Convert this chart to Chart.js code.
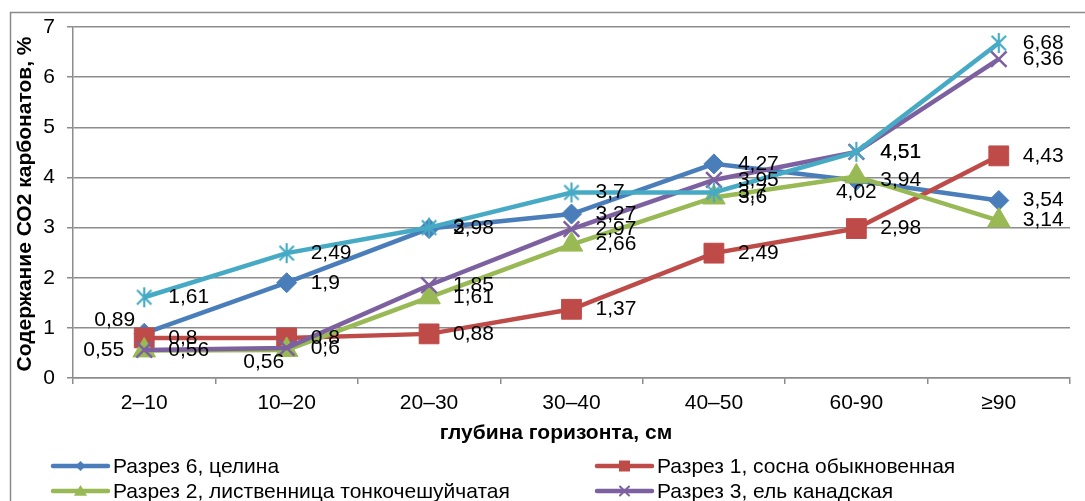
<!DOCTYPE html>
<html><head><meta charset="utf-8">
<script src="https://cdn.jsdelivr.net/npm/chart.js@4/dist/chart.umd.min.js"></script>
<style>html,body{margin:0;padding:0;background:#fff;overflow:hidden}canvas{display:block}</style>
</head><body>
<canvas id="c" width="1085" height="501"></canvas>
<script>
// ---- data ----
const categories = ['2–10', '10–20', '20–30', '30–40', '40–50', '60-90', '≥90'];
const seriesNames = ['Разрез 6, целина', 'Разрез 1, сосна обыкновенная', 'Разрез 2, лиственница тонкочешуйчатая', 'Разрез 3, ель канадская', 'Разрез 4'];
const razrez6 = [0.89, 1.9, 2.98, 3.27, 4.27, 3.94, 3.54];
const razrez1 = [0.8, 0.8, 0.88, 1.37, 2.49, 2.98, 4.43];
const razrez2 = [0.55, 0.56, 1.61, 2.66, 3.6, 4.02, 3.14];
const razrez3 = [0.56, 0.6, 1.85, 2.97, 3.95, 4.51, 6.36];
const razrez4 = [1.61, 2.49, 3, 3.7, 3.7, 4.51, 6.68];
const yTicks = [0, 1, 2, 3, 4, 5, 6, 7];
const yTitle = 'Содержание СО2 карбонатов, %';
const xTitle = 'глубина горизонта, см';

// ---- styles ----
const FONT = '"Liberation Sans", Arial, sans-serif';
const GRID = '#8c8c8c';
const colors = ['#4A7EBB', '#BE4B48', '#98B954', '#7D60A0', '#46AAC5'];
const labelPlacement = [
  ['al', 'r', 'r', 'r', 'r', 'r', 'r'],
  ['r', 'r', 'r', 'r', 'r', 'r', 'r'],
  ['l', 'bl', 'r', 'r', 'r', 'b', 'r'],
  ['r', 'r', 'r', 'r', 'r', 'r', 'r'],
  ['r', 'r', 'r', 'r', 'r', 'r', 'r']
];

function asteriskCanvas(color, s, lw) {
  const c = document.createElement('canvas');
  c.width = s; c.height = s;
  const g = c.getContext('2d');
  const m = s / 2, a = s / 2 - 1, d = a * 0.72;
  g.strokeStyle = color; g.lineWidth = lw; g.lineCap = 'butt';
  g.beginPath();
  g.moveTo(m, m - a); g.lineTo(m, m + a);
  g.moveTo(m - d, m - d); g.lineTo(m + d, m + d);
  g.moveTo(m + d, m - d); g.lineTo(m - d, m + d);
  g.stroke();
  return c;
}
const starBig = asteriskCanvas(colors[4], 22, 2.2);

const series = [razrez6, razrez1, razrez2, razrez3, razrez4];
const pStyles = ['rectRot', 'rect', 'triangle', 'crossRot', starBig];
const pRadius = [10, 14, 13, 11, 11];
const datasets = series.map((d, i) => ({
  label: seriesNames[i],
  data: d,
  borderColor: colors[i],
  backgroundColor: colors[i],
  borderWidth: 4.5,
  pointStyle: pStyles[i],
  pointRadius: pRadius[i],
  pointBorderWidth: i === 3 ? 2.5 : 1,
  pointBackgroundColor: colors[i],
  pointBorderColor: colors[i],
  tension: 0,
  fill: false,
  order: 5 - i
}));

function fmt(v) { return String(v).replace('.', ','); }

const frame = {
  id: 'frame',
  beforeDraw(chart) {
    const c = chart.ctx;
    c.save();
    c.fillStyle = '#fff';
    c.fillRect(0, 0, chart.width, chart.height);
    c.strokeStyle = '#8a8a8a';
    c.lineWidth = 1.5;
    c.strokeRect(10.5, 12.5, 1200, 600);
    c.restore();
  }
};

const dataLabels = {
  id: 'dataLabels',
  afterDatasetsDraw(chart) {
    const c = chart.ctx;
    c.save();
    c.font = '21px ' + FONT;
    c.fillStyle = '#000';
    c.textBaseline = 'middle';
    chart.data.datasets.forEach((ds, i) => {
      const meta = chart.getDatasetMeta(i);
      meta.data.forEach((pt, j) => {
        const t = fmt(ds.data[j]);
        const p = labelPlacement[i][j];
        let x = pt.x, y = pt.y;
        if (p === 'r') { c.textAlign = 'left'; x += 24; }
        else if (p === 'l') { c.textAlign = 'right'; x -= 20; }
        else if (p === 'bl') { c.textAlign = 'center'; x -= 23; y += 12; }
        else if (p === 'b') { c.textAlign = 'center'; y += 16; }
        else if (p === 'al') { c.textAlign = 'right'; x -= 9; y -= 13; }
        c.fillText(t, x, y);
      });
    });
    c.restore();
  }
};

function drawMarker(c, style, x, y, r, color) {
  c.save();
  c.fillStyle = color; c.strokeStyle = color; c.lineWidth = 1.5;
  c.beginPath();
  if (style === 'rectRot') {
    c.moveTo(x - r, y); c.lineTo(x, y - r); c.lineTo(x + r, y); c.lineTo(x, y + r); c.closePath(); c.fill();
  } else if (style === 'rect') {
    c.rect(x - r, y - r, 2 * r, 2 * r); c.fill();
  } else if (style === 'triangle') {
    c.moveTo(x, y - r); c.lineTo(x + r * 1.1, y + r * 0.8); c.lineTo(x - r * 1.1, y + r * 0.8); c.closePath(); c.fill();
  } else if (style === 'crossRot') {
    c.lineWidth = 2;
    c.moveTo(x - r, y - r); c.lineTo(x + r, y + r); c.moveTo(x + r, y - r); c.lineTo(x - r, y + r); c.stroke();
  } else {
    c.lineWidth = 1.5;
    c.moveTo(x, y - r); c.lineTo(x, y + r);
    c.moveTo(x - r * 0.7, y - r * 0.7); c.lineTo(x + r * 0.7, y + r * 0.7);
    c.moveTo(x + r * 0.7, y - r * 0.7); c.lineTo(x - r * 0.7, y + r * 0.7); c.stroke();
  }
  c.restore();
}

const legendCols = [53, 597];
const legendRows = [466, 491, 516];
const legendMarkStyle = ['rectRot', 'rect', 'triangle', 'crossRot', 'star'];
const legendMarkR = [5, 5.5, 6, 4.5, 5];

const titlesAndLegend = {
  id: 'titlesAndLegend',
  afterDraw(chart) {
    const c = chart.ctx;
    c.save();
    c.fillStyle = '#000';
    c.font = 'bold 21px ' + FONT;
    c.textAlign = 'center';
    c.textBaseline = 'middle';
    c.fillText(xTitle, 556, 433);
    c.save();
    c.translate(25, 204);
    c.rotate(-Math.PI / 2);
    c.fillText(yTitle, 0, 0);
    c.restore();
    // legend
    c.font = '21px ' + FONT;
    c.textAlign = 'left';
    seriesNames.forEach((name, i) => {
      const x0 = legendCols[i % 2];
      const y0 = legendRows[Math.floor(i / 2)];
      c.strokeStyle = colors[i];
      c.lineWidth = 4.5;
      c.lineCap = 'round';
      c.beginPath(); c.moveTo(x0, y0); c.lineTo(x0 + 55, y0); c.stroke();
      drawMarker(c, legendMarkStyle[i], x0 + 27.5, y0, legendMarkR[i], colors[i]);
      c.fillStyle = '#000';
      c.fillText(name, x0 + 60, y0 + 1);
    });
    c.restore();
  }
};

new Chart(document.getElementById('c'), {
  type: 'line',
  data: { labels: categories, datasets: datasets },
  options: {
    responsive: false,
    animation: false,
    devicePixelRatio: 1,
    layout: { padding: { left: 0, right: 8, top: 27, bottom: 0 } },
    plugins: { legend: { display: false }, tooltip: { enabled: false } },
    scales: {
      x: {
        offset: true,
        grid: { offset: true, drawOnChartArea: false, color: GRID, lineWidth: 1.5, tickLength: 6 },
        border: { color: GRID, width: 1.5 },
        ticks: { color: '#000', font: { size: 21, family: FONT }, padding: 7, maxRotation: 0, autoSkip: false },
        afterFit(s) { s.height = 123; }
      },
      y: {
        min: 0, max: 7,
        afterBuildTicks(s) { s.ticks = yTicks.map(v => ({ value: v })); },
        ticks: { color: '#000', font: { size: 21, family: FONT }, padding: 12 },
        grid: { color: GRID, lineWidth: 1.5, tickLength: 6 },
        border: { color: GRID, width: 1.5 },
        afterFit(s) { s.width = 73; }
      }
    }
  },
  plugins: [frame, dataLabels, titlesAndLegend]
});
</script>
</body></html>
